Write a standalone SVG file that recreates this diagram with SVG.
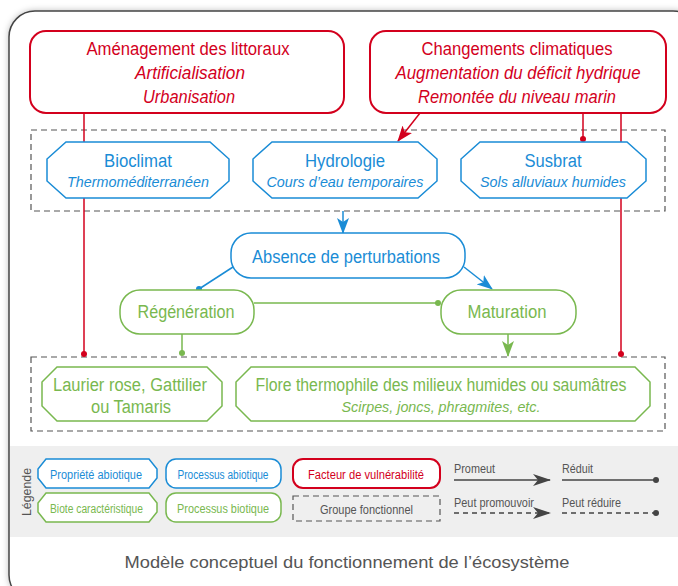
<svg xmlns="http://www.w3.org/2000/svg" width="678" height="586" viewBox="0 0 678 586">
<defs>
<filter id="sh" x="-5%" y="-5%" width="110%" height="110%">
<feDropShadow dx="0" dy="0" stdDeviation="3" flood-color="#000" flood-opacity="0.25"/>
</filter>
<marker id="arR" viewBox="0 0 16 12" markerWidth="16" markerHeight="12" refX="15" refY="6" orient="auto" markerUnits="userSpaceOnUse"><path d="M0,0 L16,6 L0,12 L4,6 z" fill="#d3001d"/></marker>
<marker id="arB" viewBox="0 0 16 12" markerWidth="16" markerHeight="12" refX="15" refY="6" orient="auto" markerUnits="userSpaceOnUse"><path d="M0,0 L16,6 L0,12 L4,6 z" fill="#1a8cd6"/></marker>
<marker id="arG" viewBox="0 0 16 12" markerWidth="16" markerHeight="12" refX="15" refY="6" orient="auto" markerUnits="userSpaceOnUse"><path d="M0,0 L16,6 L0,12 L4,6 z" fill="#79b84f"/></marker>
<marker id="arK" viewBox="0 0 18 12" markerWidth="18" markerHeight="12" refX="17" refY="6" orient="auto" markerUnits="userSpaceOnUse"><path d="M0,0 L18,6 L0,12 L5,6 z" fill="#444"/></marker>
<marker id="dR" viewBox="0 0 6 6" markerWidth="6" markerHeight="6" refX="3" refY="3" markerUnits="userSpaceOnUse"><circle cx="3" cy="3" r="3" fill="#d3001d"/></marker>
<marker id="dB" viewBox="0 0 6 6" markerWidth="6" markerHeight="6" refX="3" refY="3" markerUnits="userSpaceOnUse"><circle cx="3" cy="3" r="3" fill="#1a8cd6"/></marker>
<marker id="dG" viewBox="0 0 6 6" markerWidth="6" markerHeight="6" refX="3" refY="3" markerUnits="userSpaceOnUse"><circle cx="3" cy="3" r="3" fill="#79b84f"/></marker>
<marker id="dK" viewBox="0 0 6 6" markerWidth="6" markerHeight="6" refX="3" refY="3" markerUnits="userSpaceOnUse"><circle cx="3" cy="3" r="3" fill="#444"/></marker>
</defs>
<style>
text{font-family:"Liberation Sans",Arial,sans-serif;}
.t{text-anchor:middle;}
.i{font-style:italic;}
.red{fill:#d3001d;}
.blue{fill:#1a8cd6;}
.green{fill:#79b84f;}
.gray{fill:#555;}
.nr{fill:#fff;stroke:#d3001d;stroke-width:2;}
.nb{fill:#fff;stroke:#1a8cd6;stroke-width:1.5;}
.ng{fill:#fff;stroke:#79b84f;stroke-width:1.5;}
.grp{fill:none;stroke:#555;stroke-width:1.2;stroke-dasharray:6 4;}
.cr{fill:none;stroke:#d3001d;stroke-width:1.5;}
.cb{fill:none;stroke:#1a8cd6;stroke-width:1.5;}
.cg{fill:none;stroke:#79b84f;stroke-width:1.5;}
.ck{fill:none;stroke:#444;stroke-width:1.5;}
.dash{stroke-dasharray:5 4;}
.f17{font-size:17.5px;}
.f18{font-size:18px;}
.f15{font-size:15.5px;}
.f12{font-size:12.5px;}
</style>
<rect x="0" y="0" width="678" height="586" fill="#fff"/>
<rect x="9" y="11" width="690" height="590" rx="26" fill="#fff" stroke="#444" stroke-width="1.5" filter="url(#sh)"/>
<rect id="legend-band" x="10" y="446" width="668" height="91" fill="#efefef"/>

<g id="groups">
<rect id="group-abiotic" class="grp" x="31" y="130" width="634" height="81"/>
<rect id="group-biota" class="grp" x="31" y="357" width="634" height="74"/>
</g>

<g id="connectors">
<path class="cr" d="M84,113 V354" marker-end="url(#dR)"/>
<path class="cr" d="M420,113 L398,141" marker-end="url(#arR)"/>
<path class="cr" d="M583,113 V139" marker-end="url(#dR)"/>
<path class="cr" d="M621,113 V354" marker-end="url(#dR)"/>
<path class="cb" d="M343,211 V233" marker-end="url(#arB)"/>
<path class="cb" d="M233,267 L199,289" marker-end="url(#dB)"/>
<path class="cb" d="M464,267 L492,289" marker-end="url(#arB)"/>
<path class="cg" d="M254,303 H438" marker-end="url(#dG)"/>
<path class="cg" d="M182,334 V353" marker-end="url(#dG)"/>
<path class="cg" d="M508,334 V356" marker-end="url(#arG)"/>
</g>

<g id="amenagement">
<rect class="nr" x="30" y="31" width="314" height="82" rx="16"/>
<text class="t red f17" x="188" y="55" textLength="203" lengthAdjust="spacingAndGlyphs">Aménagement des littoraux</text>
<text class="t red f17 i" x="190" y="79" textLength="110" lengthAdjust="spacingAndGlyphs">Artificialisation</text>
<text class="t red f17 i" x="189" y="103" textLength="92" lengthAdjust="spacingAndGlyphs">Urbanisation</text>
</g>
<g id="changements">
<rect class="nr" x="370" y="31" width="296" height="82" rx="16"/>
<text class="t red f17" x="517" y="55" textLength="191" lengthAdjust="spacingAndGlyphs">Changements climatiques</text>
<text class="t red f17 i" x="518" y="79" textLength="245" lengthAdjust="spacingAndGlyphs">Augmentation du déficit hydrique</text>
<text class="t red f17 i" x="517" y="103" textLength="198" lengthAdjust="spacingAndGlyphs">Remontée du niveau marin</text>
</g>

<g id="bioclimat">
<path class="nb" d="M66,142 H210 L229,159 V181 L210,198 H66 L47,181 V159 Z"/>
<text class="t blue f18" x="138" y="167" textLength="68" lengthAdjust="spacingAndGlyphs">Bioclimat</text>
<text class="t blue f15 i" x="138" y="187" textLength="142" lengthAdjust="spacingAndGlyphs">Thermoméditerranéen</text>
</g>
<g id="hydrologie">
<path class="nb" d="M272,142 H418 L437,159 V181 L418,198 H272 L253,181 V159 Z"/>
<text class="t blue f18" x="345" y="167" textLength="80" lengthAdjust="spacingAndGlyphs">Hydrologie</text>
<text class="t blue f15 i" x="345" y="187" textLength="157" lengthAdjust="spacingAndGlyphs">Cours d’eau temporaires</text>
</g>
<g id="susbrat">
<path class="nb" d="M480,142 H627 L646,159 V181 L627,198 H480 L461,181 V159 Z"/>
<text class="t blue f18" x="553" y="167" textLength="57" lengthAdjust="spacingAndGlyphs">Susbrat</text>
<text class="t blue f15 i" x="553" y="187" textLength="146" lengthAdjust="spacingAndGlyphs">Sols alluviaux humides</text>
</g>

<g id="absence">
<rect class="nb" x="231" y="233" width="234" height="45" rx="20"/>
<text class="t blue f18" x="346" y="263" textLength="188" lengthAdjust="spacingAndGlyphs">Absence de perturbations</text>
</g>
<g id="regeneration">
<rect class="ng" x="120" y="290" width="134" height="44" rx="20"/>
<text class="t green f18" x="186" y="318" textLength="97" lengthAdjust="spacingAndGlyphs">Régénération</text>
</g>
<g id="maturation">
<rect class="ng" x="441" y="290" width="135" height="44" rx="20"/>
<text class="t green f18" x="507" y="318" textLength="79" lengthAdjust="spacingAndGlyphs">Maturation</text>
</g>

<g id="laurier">
<path class="ng" d="M57,367 H207 L222,382 V406 L207,421 H57 L42,406 V382 Z"/>
<text class="t green f18" x="130" y="391" textLength="154" lengthAdjust="spacingAndGlyphs">Laurier rose, Gattilier</text>
<text class="t green f18" x="131" y="413" textLength="80" lengthAdjust="spacingAndGlyphs">ou Tamaris</text>
</g>
<g id="flore">
<path class="ng" d="M251,367 H635 L650,382 V406 L635,421 H251 L236,406 V382 Z"/>
<text class="t green" font-size="17.5" x="441" y="391" textLength="371" lengthAdjust="spacingAndGlyphs">Flore thermophile des milieux humides ou saumâtres</text>
<text class="t green f15 i" x="441" y="412" textLength="199" lengthAdjust="spacingAndGlyphs">Scirpes, joncs, phragmites, etc.</text>
</g>

<g id="legende">
<text class="t gray" font-size="13.5" transform="translate(30.5,492) rotate(-90)" x="0" y="0" textLength="48" lengthAdjust="spacingAndGlyphs">Légende</text>
<g id="leg-propriete">
<path class="nb" d="M46,459 H149 L157,469 V478 L149,488 H46 L38,478 V469 Z"/>
<text class="t blue f12" x="96" y="479" textLength="92" lengthAdjust="spacingAndGlyphs">Propriété abiotique</text>
</g>
<g id="leg-biote">
<path class="ng" d="M46,493 H149 L157,503 V512 L149,522 H46 L38,512 V503 Z"/>
<text class="t green f12" x="96.5" y="513" textLength="93" lengthAdjust="spacingAndGlyphs">Biote caractéristique</text>
</g>
<g id="leg-proc-abio">
<rect class="nb" x="166" y="459" width="115" height="29" rx="10"/>
<text class="t blue f12" x="223" y="479" textLength="91" lengthAdjust="spacingAndGlyphs">Processus abiotique</text>
</g>
<g id="leg-proc-bio">
<rect class="ng" x="166" y="493" width="115" height="29" rx="10"/>
<text class="t green f12" x="223" y="513" textLength="92" lengthAdjust="spacingAndGlyphs">Processus biotique</text>
</g>
<g id="leg-facteur">
<rect class="nr" x="293" y="459" width="147" height="29" rx="10"/>
<text class="t red f12" x="366" y="479" textLength="116" lengthAdjust="spacingAndGlyphs">Facteur de vulnérabilité</text>
</g>
<g id="leg-groupe">
<rect class="grp" x="293" y="496" width="147" height="25"/>
<text class="t gray f12" x="366.5" y="514" textLength="93" lengthAdjust="spacingAndGlyphs">Groupe fonctionnel</text>
</g>
<g id="leg-lines">
<text class="gray" font-size="13" x="454" y="473" textLength="41" lengthAdjust="spacingAndGlyphs">Promeut</text>
<path class="ck" d="M454,480 H550" marker-end="url(#arK)"/>
<text class="gray" font-size="13" x="562" y="473" textLength="31" lengthAdjust="spacingAndGlyphs">Réduit</text>
<path class="ck" d="M562,480 H656" marker-end="url(#dK)"/>
<text class="gray" font-size="13" x="454" y="507" textLength="80" lengthAdjust="spacingAndGlyphs">Peut promouvoir</text>
<path class="ck dash" d="M454,513 H550" marker-end="url(#arK)"/>
<text class="gray" font-size="13" x="562" y="507" textLength="59" lengthAdjust="spacingAndGlyphs">Peut réduire</text>
<path class="ck dash" d="M562,513 H656" marker-end="url(#dK)"/>
</g>
</g>

<text id="caption" class="t" fill="#555" font-size="17" x="347" y="568" textLength="445" lengthAdjust="spacingAndGlyphs">Modèle conceptuel du fonctionnement de l’écosystème</text>
</svg>
